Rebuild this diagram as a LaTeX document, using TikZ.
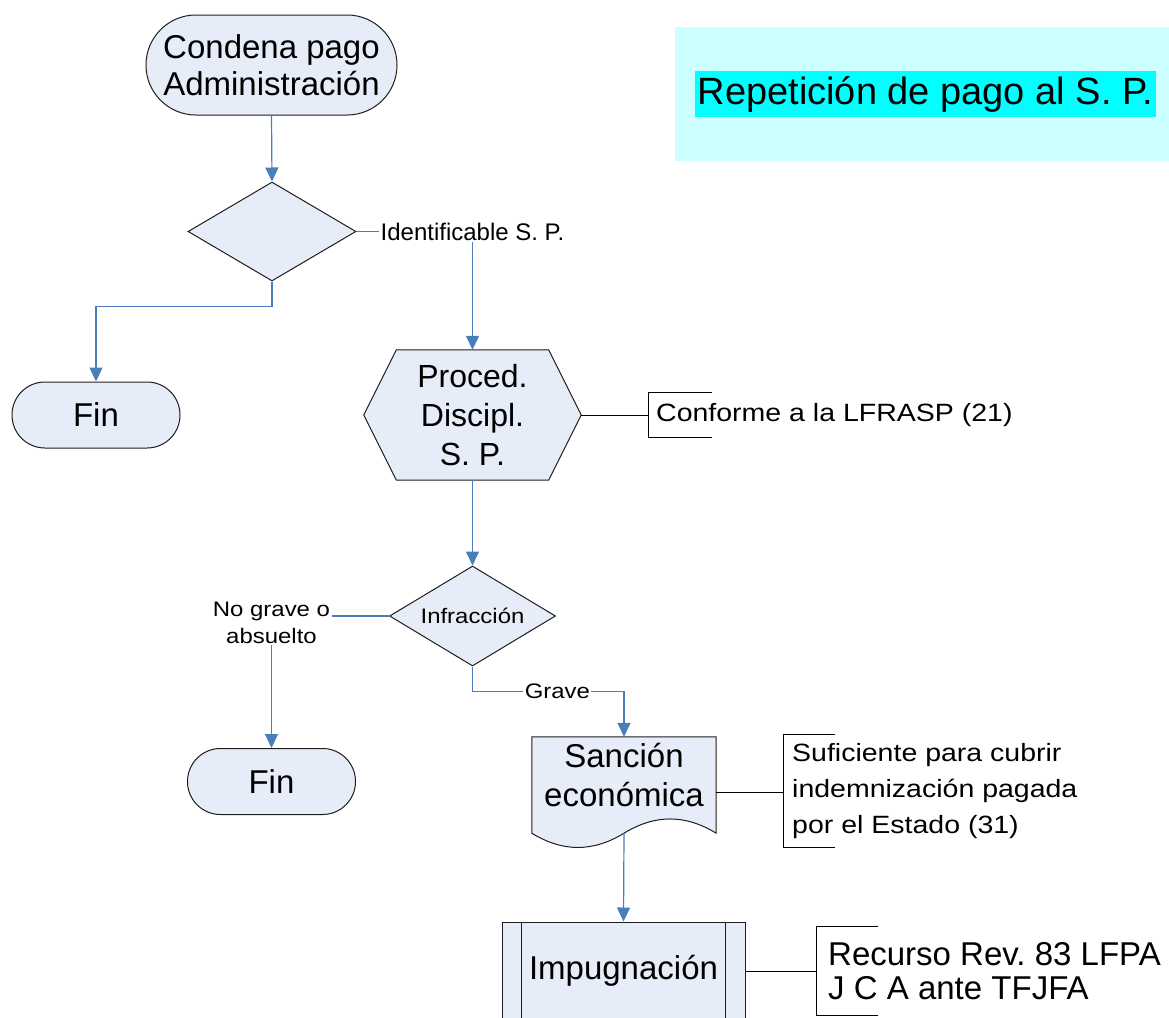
\documentclass[tikz,border=0pt]{standalone}
\usepackage{fontspec}
\setmainfont{Liberation Sans}
\newfontfamily\widesans[FakeStretch=1.14]{Liberation Sans}
\usetikzlibrary{shapes.geometric,arrows.meta,backgrounds}

\definecolor{shapefill}{RGB}{231,237,248}
\definecolor{flowblue}{RGB}{74,126,187}
\definecolor{titlebg}{RGB}{204,255,255}
\definecolor{titlehl}{RGB}{0,255,255}
\definecolor{outline}{RGB}{30,30,30}

\tikzset{
  terminal/.style={rectangle, draw=outline, fill=shapefill, line width=1pt, inner sep=0pt, align=center},
  decision/.style={diamond, aspect=1.7, draw=outline, fill=shapefill, line width=1pt, inner sep=0pt},
  plainbox/.style={rectangle, inner sep=0pt, align=center},
  shapeline/.style={draw=outline, fill=shapefill, line width=1pt, line join=miter},
  conn/.style={draw=flowblue, line width=1.2pt, -{Triangle[length=14pt,width=13pt]}},
  lbl/.style={fill=white, inner sep=1.5pt, align=center, font=\widesans\fontsize{21}{27}\selectfont},
  lblid/.style={fill=white, inner sep=1.5pt, font=\fontsize{24}{28}\selectfont},
  annot/.style={rectangle, anchor=west, inner ysep=0pt, align=left},
  annline/.style={draw=black, line width=1pt},
  docl/.style={align=center, inner sep=0pt, yshift=16pt, font=\fontsize{33}{39}\selectfont},
}

\begin{document}
\frenchspacing
\begin{tikzpicture}[x=1pt,y=-1pt]
\useasboundingbox (0,0) rectangle (1169,1017);
\clip (0,0) rectangle (1169,1017);

% title banner
\node[fill=titlebg, minimum width=500pt, minimum height=134pt, inner sep=0pt] (titlebox) at (925,94) {};
\node[fill=titlehl, inner xsep=3pt, inner ysep=0pt, minimum height=46pt,
      font=\fontsize{38}{44}\selectfont] (title) at (925.5,94) {Repetición de pago al S. P.};

% flow shapes
\node[terminal, rounded corners=49.9pt, minimum width=251pt, minimum height=100pt,
      font=\fontsize{33}{37}\selectfont] (start) at (271.5,65) {Condena pago\\Administración};
\node[decision, minimum width=168pt, minimum height=99pt] (d1) at (272,231.5) {};
\node[terminal, rounded corners=32.9pt, minimum width=168pt, minimum height=66pt,
      font=\fontsize{33}{37}\selectfont] (fin1) at (96,415) {Fin};
\node[plainbox, minimum width=217pt, minimum height=130pt,
      font=\fontsize{32}{39}\selectfont] (proc) at (472.5,415) {Proced.\\Discipl.\\S. P.};
\node[decision, minimum width=166pt, minimum height=100pt,
      font=\widesans\fontsize{21}{25}\selectfont] (d2) at (472.5,616) {Infracción};
\node[terminal, rounded corners=32.9pt, minimum width=168pt, minimum height=66pt,
      font=\fontsize{33}{37}\selectfont] (fin2) at (271.5,781.5) {Fin};
\node[plainbox, minimum width=184pt, minimum height=108pt,
      label={[docl]center:{Sanción\\económica}}] (doc) at (624,791) {};
\node[plainbox, draw=outline, fill=shapefill, line width=1pt, minimum width=243pt, minimum height=98pt,
      font=\fontsize{33}{37}\selectfont] (imp) at (623.5,971) {Impugnación};
\draw[draw=outline, line width=1pt]
  ([xshift=20pt]imp.north west) -- ([xshift=20pt]imp.south west)
  ([xshift=-20pt]imp.north east) -- ([xshift=-20pt]imp.south east);

% outlines of the hexagon and the document shape
\begin{pgfonlayer}{background}
  \path[shapeline] (proc.west) -- ([xshift=32.5pt]proc.north west) -- ([xshift=-32.5pt]proc.north east)
    -- (proc.east) -- ([xshift=-32.5pt]proc.south east) -- ([xshift=32.5pt]proc.south west) -- cycle;
  \path[shapeline] (doc.north west) -- (doc.north east) -- ([yshift=12pt]doc.south east)
    .. controls ([xshift=-31pt,yshift=31pt]doc.south east) and ([xshift=31pt,yshift=31pt]doc.south) .. ([yshift=12pt]doc.south)
    .. controls ([xshift=-31pt,yshift=-7pt]doc.south) and ([xshift=31pt,yshift=-7pt]doc.south west) .. ([yshift=12pt]doc.south west)
    -- cycle;
\end{pgfonlayer}

% connectors
\draw[conn] (start.south) -- (d1.north);
\draw[conn] (d1.south) -- ++(0,25) -| (fin1.north);
\draw[conn] (d1.east) -| node[lblid, pos=0.5] {Identificable S. P.} (proc.north);
\draw[conn] (proc.south) -- (d2.north);
\draw[conn] (d2.west) -| node[lbl, pos=0.5, yshift=-7pt] {No grave o\\absuelto} (fin2.north);
\draw[conn] (d2.south) -- ++(0,25) -| node[lbl, pos=0.28] {Grave} (doc.north);
\draw[conn] ([yshift=12pt]doc.south) -- (imp.north);

% annotations
\node[annot, minimum height=44pt, inner xsep=8pt,
      font=\widesans\fontsize{25}{30}\selectfont] (ann1) at (648,415) {Conforme a la LFRASP (21)};
\draw[annline] ([xshift=64pt]ann1.north west) -- (ann1.north west) -- (ann1.south west) -- ([xshift=64pt]ann1.south west);
\draw[annline] (proc.east) -- (ann1.west);

\node[annot, minimum height=112pt, inner xsep=9pt,
      font=\widesans\fontsize{25}{36}\selectfont] (ann2) at (783,791)
      {Suficiente para cubrir\\indemnización pagada\\por el Estado (31)};
\draw[annline] ([xshift=52pt]ann2.north west) -- (ann2.north west) -- (ann2.south west) -- ([xshift=52pt]ann2.south west);
\draw[annline] ([yshift=-1pt]doc.east) -- ([yshift=-1pt]ann2.west);

\node[annot, minimum height=88pt, inner xsep=12pt,
      font=\fontsize{33}{34}\selectfont] (ann3) at (816,971)
      {Recurso Rev. 83 LFPA\\J C A ante TFJFA};
\draw[annline] ([xshift=62pt]ann3.north west) -- (ann3.north west) -- (ann3.south west) -- ([xshift=62pt]ann3.south west);
\draw[annline] (imp.east) -- (ann3.west);
\end{tikzpicture}
\end{document}
